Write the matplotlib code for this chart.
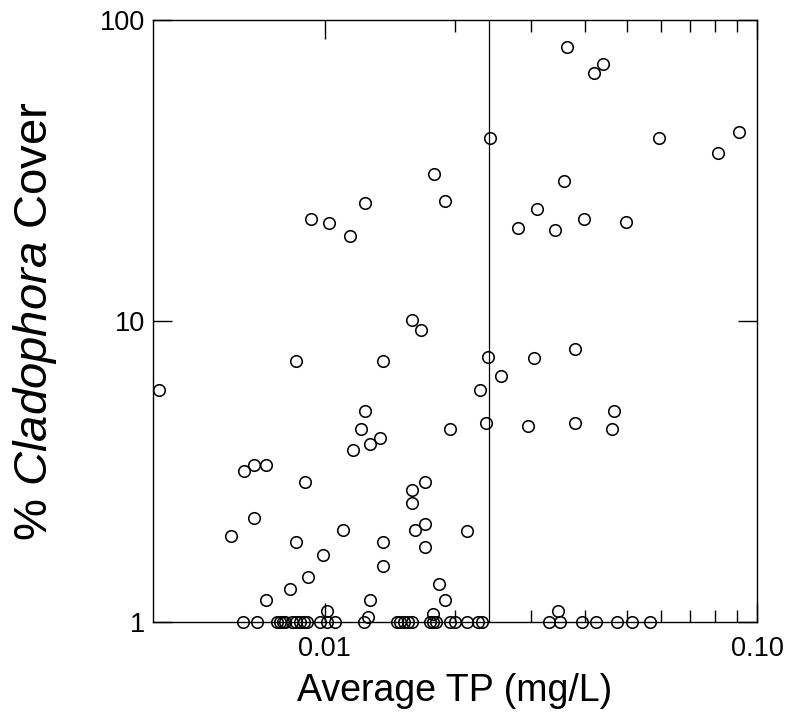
import numpy as np
import matplotlib
matplotlib.use("Agg")
import matplotlib.pyplot as plt
from matplotlib.ticker import FixedLocator, FixedFormatter, NullLocator, NullFormatter

plt.rcParams['font.family'] = ['Liberation Sans', 'DejaVu Sans']
plt.rcParams['mathtext.fontset'] = 'custom'
plt.rcParams['mathtext.rm'] = 'Liberation Sans'
plt.rcParams['mathtext.it'] = 'Liberation Sans:italic'

# sites with measurable cover
tp = [0.0363, 0.0439, 0.0419, 0.0241, 0.0593, 0.0910, 0.0814, 0.0179, 0.0357, 0.0190,
      0.0124, 0.0309, 0.00928, 0.0102, 0.0398, 0.0498, 0.0280, 0.0341, 0.0114,
      0.0159, 0.0167, 0.0239, 0.0305, 0.0380, 0.00857, 0.0136, 0.0256, 0.00413, 0.0229,
      0.0124, 0.0467, 0.0121, 0.0195, 0.0461, 0.0236, 0.0295, 0.0380, 0.0134, 0.0127, 0.0116,
      0.0065, 0.00686, 0.0073, 0.00899, 0.0159, 0.0170, 0.0159, 0.00686, 0.00605, 0.0110,
      0.0162, 0.0170, 0.0213, 0.00857, 0.0136, 0.0170, 0.00988, 0.0136, 0.00915, 0.0083,
      0.0184, 0.0073, 0.0127, 0.0190, 0.0101, 0.0126, 0.0178, 0.0346]
cover = [81.5, 71.3, 66.7, 40.5, 40.5, 42.4, 36.1, 30.8, 29.1, 25.1,
         24.6, 23.5, 21.9, 21.2, 21.9, 21.4, 20.4, 20.1, 19.2,
         10.1, 9.33, 7.57, 7.55, 8.07, 7.38, 7.38, 6.58, 5.90, 5.90,
         5.02, 5.02, 4.38, 4.38, 4.38, 4.58, 4.48, 4.58, 4.10, 3.90, 3.73,
         3.18, 3.33, 3.33, 2.91, 2.74, 2.91, 2.49, 2.21, 1.93, 2.02,
         2.02, 2.12, 2.01, 1.85, 1.85, 1.77, 1.67, 1.54, 1.41, 1.29,
         1.34, 1.18, 1.18, 1.18, 1.09, 1.04, 1.06, 1.09]

# sites sitting on the bottom of the axis
tp_low = [0.00645, 0.00697, 0.00775, 0.00787, 0.00798, 0.00809, 0.00837, 0.00857, 0.00875,
          0.00894, 0.0091, 0.00974, 0.0101, 0.01055, 0.0123, 0.0147, 0.0149, 0.0152,
          0.0156, 0.0159, 0.0175, 0.0178, 0.0181, 0.0195, 0.0200, 0.0213, 0.0226,
          0.0231, 0.0330, 0.0350, 0.0393, 0.0424, 0.0474, 0.0514, 0.0565]
cover_low = [1, 1, 1, 1, 1, 1, 1, 1, 1, 1, 1, 1, 1, 1, 1, 1, 1, 1,
             1, 1, 1, 1, 1, 1, 1, 1, 1, 1, 1, 1, 1, 1, 1, 1, 1]

tp_threshold = 0.024
x_ticks = [0.01, 0.1]
x_tick_labels = ["0.01", "0.10"]
x_minor = [0.02, 0.03, 0.04, 0.05, 0.06, 0.07, 0.08, 0.09]
y_ticks = [1, 10, 100]
y_tick_labels = ["1", "10", "100"]

fig = plt.figure(figsize=(7.87, 7.24), dpi=100)
ax = fig.add_axes([0.1944, 0.1409, 0.7675, 0.8315])

ax.plot(tp + tp_low, cover + cover_low, 'o', ms=8.3, mfc='none', mec='black',
        mew=1.15, clip_on=False, zorder=3)
ax.axvline(tp_threshold, color='black', lw=0.9)

ax.set_xscale('log')
ax.set_yscale('log')
ax.set_xlim(0.004, 0.1)
ax.set_ylim(1, 100)

ax.xaxis.set_major_locator(FixedLocator(x_ticks))
ax.xaxis.set_major_formatter(FixedFormatter(x_tick_labels))
ax.xaxis.set_minor_locator(FixedLocator(x_minor))
ax.xaxis.set_minor_formatter(NullFormatter())
ax.yaxis.set_major_locator(FixedLocator(y_ticks))
ax.yaxis.set_major_formatter(FixedFormatter(y_tick_labels))
ax.yaxis.set_minor_locator(NullLocator())

ax.tick_params(which='both', direction='in', top=True, right=True, width=1.0)
ax.tick_params(which='major', length=14, labelsize=19.5)
ax.tick_params(which='minor', length=8.5)
ax.tick_params(axis='x', which='major', pad=10)
ax.tick_params(axis='y', which='major', pad=6)
for s in ax.spines.values():
    s.set_linewidth(1.0)

ax.set_xlabel("Average TP (mg/L)", fontsize=27)
ax.set_ylabel(r"% $\it{Cladophora}$ Cover", fontsize=34)
ax.xaxis.set_label_coords(0.5, -0.085)
ax.yaxis.set_label_coords(-0.156, 0.5)

plt.savefig("out.png", dpi=100)
